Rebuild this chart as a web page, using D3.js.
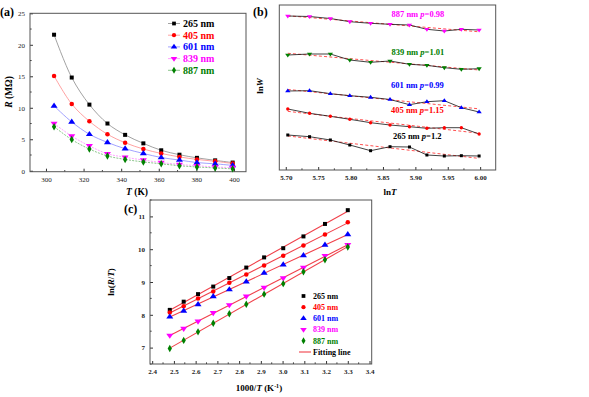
<!DOCTYPE html>
<html><head><meta charset="utf-8">
<script src="https://cdn.jsdelivr.net/npm/d3@7"></script>
<style>
body{margin:0;background:#fff}
svg{display:block}
text{font-family:"Liberation Serif","Times New Roman",serif}
</style>
</head><body>
<svg id="chart" width="589" height="397"></svg>
<script>
// ---------- DATA ----------
const seriesNames = ["265 nm","405 nm","601 nm","839 nm","887 nm"];
const seriesColors = ["#000000","#ff0000","#0000ff","#ff00ff","#008000"];
const lineColorsA = ["#8a8a8a","#ff8a8a","#8a8aff","#ff8aff","#6fb86f"];

// Panel (a): R (MOhm) vs T (K)
const tempA = [304.3, 313.7, 323.1, 332.7, 342.1, 351.8, 361.3, 371.0, 380.3, 390.0, 399.3];
const rA265 = [21.6, 14.8, 10.5, 7.5, 5.7, 4.35, 3.25, 2.55, 2.05, 1.65, 1.3];
const rA405 = [15.05, 10.6, 7.85, 5.8, 4.45, 3.45, 2.75, 2.2, 1.8, 1.5, 1.15];
const rA601 = [10.3, 7.75, 5.8, 4.5, 3.5, 2.75, 2.1, 1.7, 1.3, 1.1, 0.85];
const rA839 = [7.5, 5.5, 3.95, 2.7, 2.15, 1.7, 1.3, 1.0, 0.8, 0.6, 0.5];
const rA887 = [7.0, 4.95, 3.45, 2.35, 1.8, 1.4, 1.1, 0.8, 0.6, 0.45, 0.3];
const xTicksA = [300, 320, 340, 360, 380, 400];
const yTicksA = [0, 5, 10, 15, 20, 25];

// Panel (b): lnW (offset, arbitrary units) vs lnT
const lnTB = [5.7031, 5.7367, 5.7688, 5.7988, 5.8309, 5.8609, 5.8909, 5.9178, 5.9447, 5.9710, 5.9984];
const lnWB887 = [15.4, 15.35, 15.15, 14.83, 14.67, 14.57, 14.5, 14.07, 13.9, 14.07, 14.0];
const lnWB839 = [11.5, 11.6, 11.6, 11.0, 10.77, 10.9, 10.57, 10.47, 10.23, 10.07, 10.13];
const lnWB601 = [7.9, 7.93, 7.63, 7.43, 7.27, 7.05, 6.53, 6.83, 6.93, 6.23, 5.8];
const lnWB405 = [6.1, 5.67, 5.37, 5.07, 4.73, 4.5, 4.33, 4.17, 4.23, 4.23, 3.6];
const lnWB265 = [3.5, 3.33, 3.0, 2.5, 1.93, 2.33, 2.3, 1.5, 1.4, 1.43, 1.4];
const labelsB = ["887 nm","839 nm","601 nm","405 nm","265 nm"];
const pValuesB = ["0.98","1.01","0.99","1.15","1.2"];
const colorsB = ["#ff00ff","#008000","#0000ff","#ff0000","#000000"];
const xTicksB = [5.70, 5.75, 5.80, 5.85, 5.90, 5.95, 6.00];

// Panel (c): ln(R/T) vs 1000/T
const invTC = [2.481, 2.545, 2.611, 2.681, 2.755, 2.833, 2.915, 3.003, 3.096, 3.195, 3.300];
const lnC265 = [8.15, 8.40, 8.63, 8.86, 9.12, 9.44, 9.75, 10.03, 10.39, 10.77, 11.19];
const lnC405 = [8.07, 8.26, 8.50, 8.71, 8.98, 9.23, 9.50, 9.80, 10.11, 10.45, 10.82];
const lnC601 = [7.94, 8.12, 8.32, 8.56, 8.77, 9.01, 9.28, 9.53, 9.81, 10.13, 10.45];
const lnC839 = [7.37, 7.58, 7.80, 8.06, 8.30, 8.56, 8.83, 9.12, 9.44, 9.80, 10.13];
const lnC887 = [6.97, 7.22, 7.48, 7.74, 8.03, 8.32, 8.63, 8.95, 9.31, 9.68, 10.07];
const xTicksC = [2.4, 2.5, 2.6, 2.7, 2.8, 2.9, 3.0, 3.1, 3.2, 3.3, 3.4];
const yTicksC = [7, 8, 9, 10, 11];

// ---------- HELPERS ----------
const svg = d3.select("#chart");
const triDown = {draw(ctx, size){ const h = Math.sqrt(size*4/Math.sqrt(3))/2; const w=h*1.1547;
  ctx.moveTo(-w, -h*0.6); ctx.lineTo(w, -h*0.6); ctx.lineTo(0, h*1.1); ctx.closePath(); }};
const triUp = {draw(ctx, size){ const h = Math.sqrt(size*4/Math.sqrt(3))/2; const w=h*1.1547;
  ctx.moveTo(-w, h*0.6); ctx.lineTo(w, h*0.6); ctx.lineTo(0, -h*1.1); ctx.closePath(); }};
const symbolTypes = [d3.symbolSquare, d3.symbolCircle, triUp, triDown, d3.symbolDiamond];

function linfit(xs, ys){
  const n = xs.length, mx = d3.mean(xs), my = d3.mean(ys);
  let sxy=0, sxx=0; for(let i=0;i<n;i++){sxy+=(xs[i]-mx)*(ys[i]-my); sxx+=(xs[i]-mx)**2;}
  const b = sxy/sxx; return x => my + b*(x-mx);
}

function drawAxes(g, x, y, opts){
  const [x0,x1] = x.range(), [y1,y0] = y.range();
  const ax = g.append("g").attr("transform",`translate(0,${y1})`)
    .call(d3.axisBottom(x).tickValues(opts.xTicks).tickSize(-3).tickFormat(opts.xFmt).tickPadding(5));
  ax.select(".domain").remove();
  ax.selectAll("text").attr("font-size",opts.fs).attr("font-family",opts.ff).attr("font-weight",opts.fw).attr("fill","#222");
  ax.selectAll("line").attr("stroke","#333");
  if(opts.xMinor){
    g.selectAll(null).data(opts.xMinor).join("line")
      .attr("x1",d=>x(d)).attr("x2",d=>x(d)).attr("y1",y1).attr("y2",y1-1.6).attr("stroke","#333");
  }
  if(opts.yTicks){
    const ay = g.append("g").attr("transform",`translate(${x0},0)`)
      .call(d3.axisLeft(y).tickValues(opts.yTicks).tickSize(-3).tickFormat(opts.yFmt).tickPadding(5));
    ay.select(".domain").remove();
    ay.selectAll("text").attr("font-size",opts.fs).attr("font-family",opts.ff).attr("font-weight",opts.fw).attr("fill","#222");
    ay.selectAll("line").attr("stroke","#333");
    if(opts.yMinor){
      g.selectAll(null).data(opts.yMinor).join("line")
        .attr("y1",d=>y(d)).attr("y2",d=>y(d)).attr("x1",x0).attr("x2",x0+1.6).attr("stroke","#333");
    }
  }
  g.append("rect").attr("x",x0).attr("y",y0).attr("width",x1-x0).attr("height",y1-y0)
    .attr("fill","none").attr("stroke","#555").attr("stroke-width",1);
}

// ---------- PANEL A ----------
{
  const g = svg.append("g");
  const x = d3.scaleLinear([291.5, 406.4],[30, 246]);
  const y = d3.scaleLinear([-0.15, 25],[171.7, 13.3]);
  drawAxes(g, x, y, {xTicks:xTicksA, yTicks:yTicksA, xMinor:[310,330,350,370,390],
    yMinor:[2.5,7.5,12.5,17.5,22.5], fs:7, ff:"'Liberation Sans',Arial,sans-serif", fw:"normal",
    xFmt:d3.format("d"), yFmt:d3.format("d")});
  const ser = [rA265, rA405, rA601, rA839, rA887];
  const line = d3.line().x((d,i)=>x(tempA[i])).y(d=>y(d)).curve(d3.curveCatmullRom);
  ser.forEach((s,k)=>{
    g.append("path").attr("d",line(s)).attr("fill","none").attr("stroke",lineColorsA[k])
      .attr("stroke-width",0.8).attr("stroke-dasharray", k>=3 ? "2,1.2" : null);
  });
  ser.forEach((s,k)=>{
    g.selectAll(null).data(s).join("path")
      .attr("transform",(d,i)=>`translate(${x(tempA[i])},${y(d)})`)
      .attr("d", d3.symbol().type(symbolTypes[k]).size(16)).attr("fill",seriesColors[k]);
  });
  // legend
  seriesNames.forEach((nm,k)=>{
    const ly = 23.5 + k*11.7;
    g.append("line").attr("x1",168).attr("x2",180).attr("y1",ly).attr("y2",ly).attr("stroke",lineColorsA[k]).attr("stroke-width",0.8);
    g.append("path").attr("transform",`translate(174,${ly})`).attr("d",d3.symbol().type(symbolTypes[k]).size(14)).attr("fill",seriesColors[k]);
    g.append("text").attr("x",183).attr("y",ly).attr("dy","0.35em").attr("font-size",10).attr("font-weight","bold")
      .attr("fill",seriesColors[k]).text(nm);
  });
  g.append("text").attr("x",0).attr("y",16).attr("font-size",12).attr("font-weight","bold").text("(a)");
  const yl = g.append("text").attr("transform","translate(12,92) rotate(-90)").attr("text-anchor","middle")
    .attr("font-size",9.5).attr("font-weight","bold");
  yl.append("tspan").attr("font-style","italic").text("R");
  yl.append("tspan").text(" (MΩ)");
  const xl = g.append("text").attr("x",137).attr("y",195).attr("text-anchor","middle").attr("font-size",9.5).attr("font-weight","bold");
  xl.append("tspan").attr("font-style","italic").text("T");
  xl.append("tspan").text(" (K)");
}

// ---------- PANEL B ----------
{
  const g = svg.append("g");
  const x = d3.scaleLinear([5.69, 6.024],[279.3, 495.7]);
  const y = d3.scaleLinear([0, 16.5],[170, 5]);
  drawAxes(g, x, y, {xTicks:xTicksB, xMinor:[5.725,5.775,5.825,5.875,5.925,5.975], fs:7,
    ff:"'Liberation Serif',serif", fw:"bold", xFmt:d3.format(".2f")});
  const ser = [lnWB887, lnWB839, lnWB601, lnWB405, lnWB265];
  const symB = [triDown, triDown, triUp, d3.symbolCircle, d3.symbolSquare];
  const line = d3.line().x((d,i)=>x(lnTB[i])).y(d=>y(d));
  ser.forEach((s,k)=>{
    const f = linfit(lnTB, s);
    g.append("line").attr("x1",x(lnTB[0])).attr("x2",x(lnTB[10])).attr("y1",y(f(lnTB[0]))).attr("y2",y(f(lnTB[10])))
      .attr("stroke","#ff5050").attr("stroke-width",1).attr("stroke-dasharray","3,2.2");
    g.append("path").attr("d",line(s)).attr("fill","none").attr("stroke","#111").attr("stroke-width",0.8);
    g.selectAll(null).data(s).join("path")
      .attr("transform",(d,i)=>`translate(${x(lnTB[i])},${y(d)})`)
      .attr("d", d3.symbol().type(symB[k]).size(9)).attr("fill",colorsB[k]);
  });
  const annY = [14, 51.7, 85, 110.5, 136.5];
  const annX = [391.5, 391.5, 391, 391, 393];
  labelsB.forEach((nm,k)=>{
    const t = g.append("text").attr("x",annX[k]).attr("y",annY[k]).attr("dy","0.35em").attr("font-size",8.5)
      .attr("font-weight","bold").attr("fill",colorsB[k]);
    t.append("tspan").text(nm + "  ");
    t.append("tspan").attr("font-style","italic").text("p");
    t.append("tspan").text("=" + pValuesB[k]);
  });
  g.append("text").attr("x",253).attr("y",16).attr("font-size",12).attr("font-weight","bold").text("(b)");
  const yl = g.append("text").attr("transform","translate(263,86) rotate(-90)").attr("text-anchor","middle")
    .attr("font-size",9).attr("font-weight","bold");
  yl.append("tspan").text("ln");
  yl.append("tspan").attr("font-style","italic").text("W");
  const xl = g.append("text").attr("x",390).attr("y",195).attr("text-anchor","middle").attr("font-size",9).attr("font-weight","bold");
  xl.append("tspan").text("ln");
  xl.append("tspan").attr("font-style","italic").text("T");
}

// ---------- PANEL C ----------
{
  const g = svg.append("g");
  const x = d3.scaleLinear([2.39, 3.41],[150, 371.7]);
  const y = d3.scaleLinear([6.5, 11.5],[364, 200]);
  drawAxes(g, x, y, {xTicks:xTicksC, yTicks:yTicksC, xMinor:[2.45,2.55,2.65,2.75,2.85,2.95,3.05,3.15,3.25,3.35],
    yMinor:[6.5,7.5,8.5,9.5,10.5,11.5], fs:7, ff:"'Liberation Serif',serif", fw:"bold",
    xFmt:d3.format(".1f"), yFmt:d3.format("d")});
  const ser = [lnC265, lnC405, lnC601, lnC839, lnC887];
  ser.forEach((s,k)=>{
    const f = linfit(invTC, s);
    g.append("line").attr("x1",x(invTC[0])).attr("x2",x(invTC[10])).attr("y1",y(f(invTC[0]))).attr("y2",y(f(invTC[10])))
      .attr("stroke","#f0404a").attr("stroke-width",1.1);
  });
  ser.forEach((s,k)=>{
    g.selectAll(null).data(s).join("path")
      .attr("transform",(d,i)=>`translate(${x(invTC[i])},${y(d)})`)
      .attr("d", d3.symbol().type(symbolTypes[k]).size(16)).attr("fill",seriesColors[k]);
  });
  seriesNames.forEach((nm,k)=>{
    const ly = 296 + k*11.2;
    g.append("path").attr("transform",`translate(303.5,${ly})`).attr("d",d3.symbol().type(symbolTypes[k]).size(14)).attr("fill",seriesColors[k]);
    g.append("text").attr("x",313).attr("y",ly).attr("dy","0.35em").attr("font-size",8).attr("font-weight","bold")
      .attr("fill",seriesColors[k]).text(nm);
  });
  const fly = 296 + 5*11.2;
  g.append("line").attr("x1",299).attr("x2",311).attr("y1",fly).attr("y2",fly).attr("stroke","#f0404a").attr("stroke-width",1.1);
  g.append("text").attr("x",313).attr("y",fly).attr("dy","0.35em").attr("font-size",8).attr("font-weight","bold").text("Fitting line");
  g.append("text").attr("x",124).attr("y",213).attr("font-size",12).attr("font-weight","bold").text("(c)");
  const yl = g.append("text").attr("transform","translate(114,282) rotate(-90)").attr("text-anchor","middle")
    .attr("font-size",9).attr("font-weight","bold");
  yl.append("tspan").text("ln(");
  yl.append("tspan").attr("font-style","italic").text("R");
  yl.append("tspan").text("/");
  yl.append("tspan").attr("font-style","italic").text("T");
  yl.append("tspan").text(")");
  const xl = g.append("text").attr("x",259).attr("y",391).attr("text-anchor","middle").attr("font-size",9).attr("font-weight","bold");
  xl.append("tspan").text("1000/");
  xl.append("tspan").attr("font-style","italic").text("T");
  xl.append("tspan").text(" (K");
  xl.append("tspan").attr("font-size",6).attr("dy",-3.5).text("-1");
  xl.append("tspan").attr("dy",3.5).text(")");
}
</script>
</body></html>
